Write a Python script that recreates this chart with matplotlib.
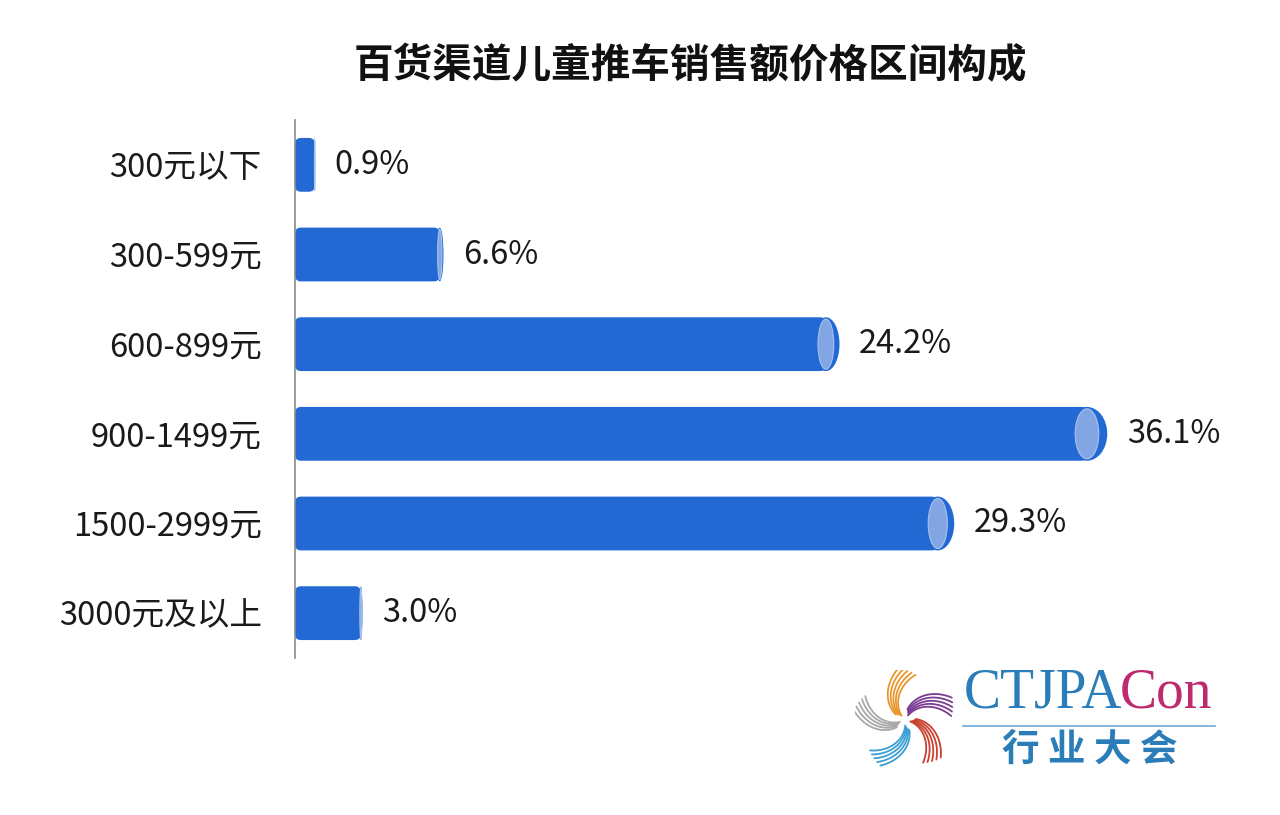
import numpy as np
import matplotlib
matplotlib.use('Agg')
import matplotlib.pyplot as plt
from matplotlib.patches import Ellipse, FancyBboxPatch

plt.rcParams['font.family'] = ['Noto Sans CJK SC', 'DejaVu Sans']

# data
categories = ['300元以下', '300-599元', '600-899元', '900-1499元', '1500-2999元', '3000元及以上']
values = [0.9, 6.6, 24.2, 36.1, 29.3, 3.0]
title = '百货渠道儿童推车销售额价格区间构成'

bar_color = '#2369D3'
cap_color = '#82A6E3'

fig = plt.figure(figsize=(12.8, 8.15), dpi=100)
ax = fig.add_axes([295/1280, 1-658/815, 1-295/1280, 538/815])
ax.set_xlim(0, (1280-295)/22.5)
ax.set_ylim(len(values)-0.5, -0.5)

h = 0.6
px_x = 1/22.5          # data units per pixel, x
px_y = 1/89.6          # data units per pixel, y
for i, v in enumerate(values):
    a = 0.025*v        # half width of the end cap
    r = 6*px_x
    body = FancyBboxPatch((0, i-h/2), v-a, h,
                          boxstyle='round,pad=0,rounding_size=%f' % min(r, (v-a)/2),
                          mutation_aspect=px_y/px_x,
                          fc=bar_color, ec='none')
    ax.add_patch(body)
    ax.add_patch(Ellipse((v-a, i), 2*a, h, fc=bar_color, ec='none'))
    ax.add_patch(Ellipse((v-a, i), 2*a*0.58, h*0.93, fc=cap_color,
                         ec='#A9C2EE', lw=0.8))
    ax.annotate('%.1f%%' % v, (v, i), xytext=(14, 0), textcoords='offset points',
                ha='left', va='center', fontsize=23.5, color='#1a1a1a')

ax.set_yticks(range(len(categories)))
ax.set_yticklabels(categories, fontsize=23.5, color='#1a1a1a')
ax.tick_params(axis='y', length=0, pad=24)
ax.set_xticks([])
for s in ['top', 'right', 'bottom']:
    ax.spines[s].set_visible(False)
ax.spines['left'].set_color('#8a8a8a')
ax.spines['left'].set_linewidth(1.2)

fig.text(690/1280, 1-66/815, title, ha='center', va='center',
         fontsize=28.5, fontweight='bold', color='#111111')

# logo text
fig.text(964/1280, 1-694/815, 'CTJPA', ha='left', va='center', fontsize=40,
         family='Liberation Serif', color='#2A7DB8')
fig.text(1120/1280, 1-694/815, 'Con', ha='left', va='center', fontsize=40,
         family='Liberation Serif', color='#BE2A6E')
fig.add_artist(plt.Line2D([963/1280, 1215/1280], [1-726/815, 1-726/815],
                          color='#6FA8D6', lw=1.2))
fig.text(1090/1280, 1-749/815, '行 业 大 会', ha='center', va='center', fontsize=27,
         fontweight='bold', color='#2A7DB8')

# logo star
lx = fig.add_axes([855/1280, 1-770/815, 100/1280, 100/815])
lx.set_xlim(-1.1, 1.1)
lx.set_ylim(-1.1, 1.1)
lx.axis('off')
arm_colors = ['#E8972F', '#7B3B92', '#C9412F', '#3A9FD2', '#A8A8A8']
for k, c in enumerate(arm_colors):
    th0 = np.radians(140 - 72*k)
    for j in range(5):
        t = np.linspace(0, 1, 40)
        rr = 0.12 + 0.9*t + 0.03*j
        ang = th0 - 0.9*t + 0.09*j - 0.2
        lx.plot(rr*np.cos(ang), rr*np.sin(ang), color=c, lw=1.3,
                solid_capstyle='round')

fig.savefig('out.png', dpi=100, facecolor='white')
